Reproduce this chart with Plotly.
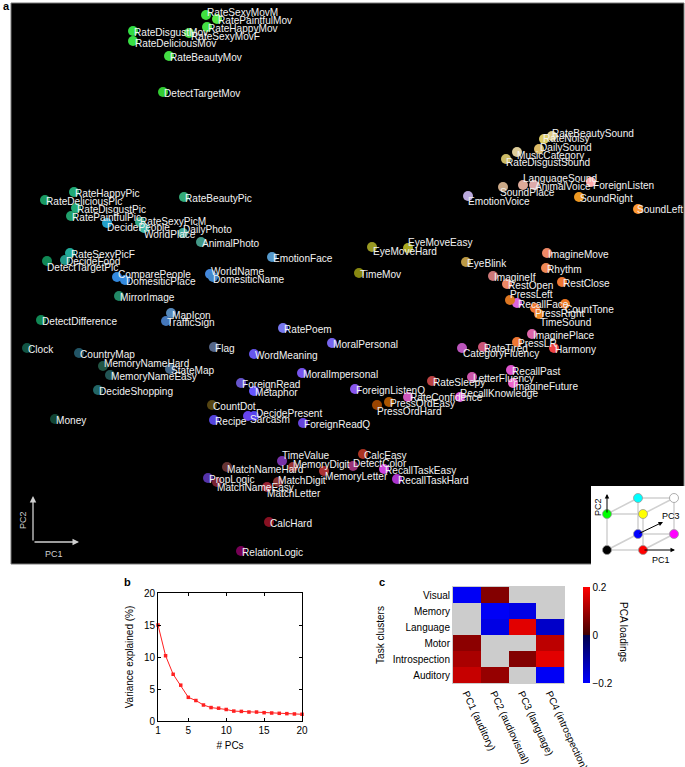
import plotly.graph_objects as go

W, H = 685, 767

# ---------------- Panel a : task scores on PC1 / PC2 (arbitrary units)
task_names = [
    "RateSexyMovM", "RatePaintfulMov", "RateHappyMov", "RateDisgustMov", "RateSexyMovF",
    "RateDeliciousMov", "RateBeautyMov", "DetectTargetMov", "RateHappyPic", "RateBeautyPic",
    "RateDeliciousPic", "RateDisgustPic", "RatePaintfulPic", "RateSexyPicM", "DecidePeople",
    "WorldPlace", "DailyPhoto", "AnimalPhoto", "RateSexyPicF", "EmotionFace",
    "DecideFood", "DetectTargetPic", "ComparePeople", "DomesiticPlace", "WorldName",
    "DomesiticName", "MirrorImage", "MapIcon", "TrafficSign", "DetectDifference",
    "RatePoem", "MoralPersonal", "Clock", "Flag", "CountryMap",
    "WordMeaning", "MemoryNameHard", "StateMap", "MoralImpersonal", "MemoryNameEasy",
    "DecideShopping", "ForeignRead", "Metaphor", "ForeignListenQ", "CountDot",
    "DecidePresent", "Sarcasm", "Recipe", "ForeignReadQ", "Money",
    "PressOrdEasy", "PressOrdHard", "RateConfidence", "RateSleepy", "LetterFluency",
    "RecallKnowledge", "ImagineFuture", "RecallPast", "CategoryFluency", "RateTired",
    "PressLR", "ImaginePlace", "Harmony", "TimeSound", "PressRight",
    "CountTone", "RecallFace", "PressLeft", "RestOpen", "ImagineIf",
    "RestClose", "Rhythm", "ImagineMove", "EyeBlink", "EyeMoveEasy",
    "EyeMoveHard", "TimeMov", "EmotionVoice", "SoundPlace", "LanguageSound",
    "AnimalVoice", "ForeignListen", "SoundRight", "SoundLeft", "RateBeautySound",
    "RateNoisy", "DailySound", "MusicCategory", "RateDisgustSound", "TimeValue",
    "MemoryDigit", "CalcEasy", "DetectColor", "MemoryLetter", "RecallTaskEasy",
    "RecallTaskHard", "MatchNameHard", "PropLogic", "MatchNameEasy", "MatchDigit",
    "MatchLetter", "CalcHard", "RelationLogic",
]
pc1_score = [
    206, 217, 207, 133, 189, 133, 169, 163, 74, 184,
    45, 76, 71, 140, 107, 144, 183, 201, 70, 272,
    65, 47, 117, 125, 210, 213, 119, 171, 166, 41,
    283, 332, 27, 214, 79, 254, 103, 170, 302, 110,
    98, 241, 254, 355, 212, 254, 248, 214, 303, 55,
    389, 377, 408, 432, 472, 460, 513, 511, 462, 483,
    517, 532, 554, 539, 535, 565, 517, 510, 507, 493,
    562, 546, 547, 466, 408, 372, 359, 468, 503, 523,
    534, 591, 579, 638, 552, 544, 539, 517, 506, 282,
    293, 363, 353, 324, 384, 397, 227, 208, 217, 278,
    267, 269, 241,
]
pc2_score = [
    15, 19, 27, 31, 33, 41, 56, 92, 192, 197,
    200, 208, 216, 222, 223, 228, 233, 242, 253, 257,
    260, 261, 277, 280, 274, 277, 296, 313, 321, 320,
    328, 343, 348, 347, 353, 354, 366, 369, 373, 375,
    390, 383, 391, 389, 405, 416, 416, 420, 423, 419,
    402, 405, 397, 381, 377, 397, 383, 370, 348, 347,
    342, 334, 348, 314, 308, 304, 303, 300, 284, 276,
    282, 268, 253, 262, 248, 247, 273, 196, 187, 185,
    185, 182, 197, 209, 136, 139, 149, 152, 159, 461,
    467, 454, 466, 471, 469, 479, 467, 478, 482, 482,
    487, 522, 551,
]
task_colors = [
    "#3fe03f", "#55e844", "#44de44", "#33dd44", "#4cdc4c", "#38df44", "#44dd44", "#33cc33", "#22aa77", "#33aa77",
    "#1a9a62", "#22aa77", "#20a06c", "#33aa88", "#22a0cc", "#44bbaa", "#44aa99", "#449988", "#22aa99", "#5599cc",
    "#229988", "#118855", "#3388dd", "#3388dd", "#4488dd", "#4488cc", "#228866", "#5588bb", "#4477bb", "#118855",
    "#7777ee", "#7766ee", "#115544", "#556688", "#225566", "#6655ee", "#225544", "#446688", "#7755ee", "#225555",
    "#226666", "#6655cc", "#6655ff", "#8855ee", "#554411", "#5544ee", "#6644ee", "#5544dd", "#6644dd", "#114433",
    "#aa5500", "#994400", "#cc55bb", "#bb4444", "#cc55aa", "#dd55dd", "#ee66cc", "#dd55cc", "#bb55bb", "#cc5577",
    "#ee7733", "#dd66aa", "#ee4444", "#ee8822", "#ee7733", "#ee7722", "#dd66dd", "#dd7722", "#ee8866", "#cc7777",
    "#ee7733", "#ee8855", "#ee8866", "#bb9944", "#aaaa22", "#999922", "#888811", "#bbaadd", "#ccaa88", "#ddaa99",
    "#ddaaaa", "#ffaaaa", "#ee9922", "#ff9933", "#ddcc88", "#ddcc66", "#ddbb66", "#ddcc99", "#ccbb66", "#7733aa",
    "#993333", "#aa3322", "#993377", "#aa3333", "#cc44dd", "#aa33cc", "#663333", "#5533aa", "#772233", "#883333",
    "#992233", "#881122", "#770055",
]

# label placement (pixel offsets of the label's left-middle point from the marker centre)
label_offset = {
    "RateSexyMovM": (1, -3), "RateSexyMovF": (2, 3), "RateDeliciousMov": (2, 2),
    "RateSexyPicM": (0, -1), "DecidePeople": (0, 4), "WorldPlace": (0, 6), "DailyPhoto": (0, -4),
    "DetectTargetPic": (0, 6), "ComparePeople": (1, -3), "WorldName": (1, -3), "DomesiticName": (0, 2),
    "MapIcon": (1, 2), "MemoryNameHard": (1, -3), "DecidePresent": (2, -3), "Sarcasm": (2, 3),
    "PressOrdHard": (0, 6), "RecallKnowledge": (0, -4), "ImagineFuture": (0, 3), "CategoryFluency": (1, 5),
    "TimeSound": (1, 8), "PressRight": (0, 5), "CountTone": (0, 5), "PressLeft": (0, -6),
    "EyeMoveEasy": (0, -6), "EyeMoveHard": (1, 4), "EmotionVoice": (0, 5), "SoundPlace": (-3, 5),
    "LanguageSound": (0, -7), "ForeignListen": (2, 3), "RateBeautySound": (0, -3), "RateNoisy": (-1, -1),
    "DailySound": (1, -2), "MusicCategory": (0, 3), "RateDisgustSound": (0, 3), "TimeValue": (0, -6),
    "MemoryDigit": (0, -3), "DetectColor": (0, -3), "MemoryLetter": (1, 5), "MatchNameHard": (0, 2),
    "MatchNameEasy": (0, 5), "MatchDigit": (0, -2), "MatchLetter": (0, 6), "RateConfidence": (2, 0),
    "SoundLeft": (-1, 0),
}

# ---------------- Panel b : variance explained
pc_index = list(range(1, 21))
variance_explained = [15.0, 10.2, 7.3, 5.6, 3.7, 3.2, 2.5, 2.1, 2.0, 1.8,
                      1.55, 1.5, 1.4, 1.4, 1.3, 1.25, 1.2, 1.15, 1.1, 1.05]

# ---------------- Panel c : PCA loadings per task cluster (None = not significant, grey)
cluster_names = ["Visual", "Memory", "Language", "Motor", "Introspection", "Auditory"]
pc_names = ["PC1 (auditory)", "PC2 (audiovisual)", "PC3 (language)", "PC4 (introspection)"]
loadings = [
    [-0.19, 0.07, None, None],
    [None, -0.19, -0.17, None],
    [None, -0.17, 0.17, -0.14],
    [0.08, None, None, 0.13],
    [0.11, None, 0.07, 0.17],
    [0.14, 0.09, None, -0.19],
]

FONT = "Liberation Sans, Arial, Helvetica, sans-serif"

def px_x(p):
    return p / W

def px_y(p):
    return 1 - p / H

fig = go.Figure()

# panel a markers
fig.add_trace(go.Scatter(
    x=pc1_score, y=pc2_score, mode="markers", text=task_names, hoverinfo="text",
    marker=dict(size=10, color=task_colors, line=dict(width=0)),
    xaxis="x", yaxis="y", showlegend=False, cliponaxis=False))

annotations = []
for name, x, y in zip(task_names, pc1_score, pc2_score):
    dx, dy = label_offset.get(name, (1, 1))
    annotations.append(dict(
        x=x, y=y, xref="x", yref="y", text=name, showarrow=False,
        xanchor="left", yanchor="middle", xshift=dx - 2, yshift=-dy,
        font=dict(family=FONT, size=10.1, color="#f2f2f2")))

# PC1/PC2 direction arrows in panel a
for (x0, y0, x1, y1) in [(33, 542, 33, 496), (33, 542, 79, 542)]:
    annotations.append(dict(x=x1, y=y1, ax=x0, ay=y0, xref="x", yref="y", axref="x", ayref="y",
                            text="", showarrow=True, arrowhead=2, arrowsize=1, arrowwidth=1.3,
                            arrowcolor="#cfcfcf"))
annotations.append(dict(x=23, y=520, xref="x", yref="y", text="PC2", showarrow=False, textangle=-90,
                        xanchor="center", yanchor="middle",
                        font=dict(family=FONT, size=9, color="#cfcfcf")))
annotations.append(dict(x=54, y=554, xref="x", yref="y", text="PC1", showarrow=False,
                        xanchor="center", yanchor="middle",
                        font=dict(family=FONT, size=9, color="#cfcfcf")))

# inset colour cube (legend graphic)
origin = (607, 550)
e1, e2, e3 = (36, 0), (0, -36), (31, -16)
cube_vertices = {}
for a in (0, 1):
    for b in (0, 1):
        for c in (0, 1):
            cube_vertices[(a, b, c)] = (origin[0] + a * e1[0] + b * e2[0] + c * e3[0],
                                        origin[1] + a * e1[1] + b * e2[1] + c * e3[1])
ex, ey = [], []
for v, (x0, y0) in cube_vertices.items():
    for k in range(3):
        if v[k] == 0:
            w = list(v); w[k] = 1
            x1, y1 = cube_vertices[tuple(w)]
            ex += [x0, x1, None]; ey += [y0, y1, None]
fig.add_trace(go.Scatter(x=ex, y=ey, mode="lines", line=dict(color="#d0d0d0", width=1.5),
                         xaxis="x2", yaxis="y2", hoverinfo="skip", showlegend=False))
vx = [cube_vertices[v][0] for v in cube_vertices]
vy = [cube_vertices[v][1] for v in cube_vertices]
vc = ["rgb(%d,%d,%d)" % (255 * v[0], 255 * v[1], 255 * v[2]) for v in cube_vertices]
fig.add_trace(go.Scatter(x=vx, y=vy, mode="markers",
                         marker=dict(size=9, color=vc, line=dict(width=0.8, color="#999999")),
                         xaxis="x2", yaxis="y2", hoverinfo="skip", showlegend=False, cliponaxis=False))
for (x0, y0, x1, y1) in [(607, 514, 607, 494), (643, 550, 675, 550), (638, 534, 663, 522)]:
    annotations.append(dict(x=x1, y=y1, ax=x0, ay=y0, xref="x2", yref="y2", axref="x2", ayref="y2",
                            text="", showarrow=True, arrowhead=2, arrowsize=0.9, arrowwidth=1,
                            arrowcolor="black"))
annotations.append(dict(x=598, y=507, xref="x2", yref="y2", text="PC2", showarrow=False, textangle=-90,
                        xanchor="center", yanchor="middle",
                        font=dict(family=FONT, size=9, color="black")))
annotations.append(dict(x=661, y=560, xref="x2", yref="y2", text="PC1", showarrow=False,
                        xanchor="center", yanchor="middle",
                        font=dict(family=FONT, size=9, color="black")))
annotations.append(dict(x=671, y=516, xref="x2", yref="y2", text="PC3", showarrow=False,
                        xanchor="center", yanchor="middle",
                        font=dict(family=FONT, size=9, color="black")))

# panel b
fig.add_trace(go.Scatter(x=pc_index, y=variance_explained, mode="lines+markers",
                         line=dict(color="#ff2020", width=1),
                         marker=dict(symbol="square", size=3.5, color="#ff2020"),
                         xaxis="x3", yaxis="y3", showlegend=False, cliponaxis=False))

# panel c
fig.add_trace(go.Heatmap(z=[[1] * len(pc_names) for _ in cluster_names], x=pc_names, y=cluster_names,
                         colorscale=[[0, "#cccccc"], [1, "#cccccc"]], showscale=False,
                         hoverinfo="skip", xaxis="x4", yaxis="y4"))
fig.add_trace(go.Heatmap(
    z=loadings, x=pc_names, y=cluster_names, zmin=-0.2, zmax=0.2,
    colorscale=[[0, "#0000ff"], [0.5, "#00004a"], [0.5, "#400000"], [1, "#ff0000"]],
    xaxis="x4", yaxis="y4",
    colorbar=dict(x=px_x(583), xanchor="left", y=px_y(635), yanchor="middle",
                  len=96 / H, lenmode="fraction", thickness=7, outlinewidth=0,
                  xpad=0, ypad=0, tickvals=[-0.2, 0, 0.2], ticktext=["\u22120.2", "0", "0.2"],
                  ticks="", tickfont=dict(family=FONT, size=10, color="black"))))

annotations.append(dict(x=px_x(624), y=px_y(632), xref="paper", yref="paper", text="PCA loadings",
                        showarrow=False, textangle=90, xanchor="center", yanchor="middle",
                        font=dict(family=FONT, size=10, color="black")))

# panel letters
annotations += [
    dict(x=px_x(1), y=px_y(6), xref="paper", yref="paper", text="<b>a</b>", showarrow=False,
         xanchor="left", yanchor="middle", font=dict(family=FONT, size=11, color="black")),
    dict(x=px_x(128), y=px_y(582), xref="paper", yref="paper", text="<b>b</b>", showarrow=False,
         xanchor="center", yanchor="middle", font=dict(family=FONT, size=11, color="black")),
    dict(x=px_x(382), y=px_y(582), xref="paper", yref="paper", text="<b>c</b>", showarrow=False,
         xanchor="center", yanchor="middle", font=dict(family=FONT, size=11, color="black")),
]

shapes = [
    dict(type="rect", xref="x domain", yref="y domain", x0=0, x1=1, y0=0, y1=1,
         fillcolor="black", line=dict(color="#777777", width=1), layer="below"),
    dict(type="rect", xref="x2 domain", yref="y2 domain", x0=0, x1=1, y0=0, y1=1,
         fillcolor="white", line=dict(width=0), layer="below"),
]

axis_off = dict(visible=False, showgrid=False, zeroline=False, fixedrange=True, automargin=False)
tickfont = dict(family=FONT, size=10, color="black")

fig.update_layout(
    template="none",
    width=W, height=H, autosize=False, margin=dict(l=0, r=0, t=0, b=0, pad=0, autoexpand=False),
    paper_bgcolor="white", plot_bgcolor="rgba(0,0,0,0)",
    font=dict(family=FONT, size=10, color="black"),
    showlegend=False,
    xaxis=dict(axis_off, domain=[px_x(11), px_x(684)], range=[11, 684], anchor="y"),
    yaxis=dict(axis_off, domain=[px_y(564), px_y(3)], range=[564, 3], anchor="x"),
    xaxis2=dict(axis_off, domain=[px_x(591), 1], range=[591, 685], anchor="y2"),
    yaxis2=dict(axis_off, domain=[px_y(565), px_y(486)], range=[565, 486], anchor="x2"),
    xaxis3=dict(domain=[px_x(158), px_x(302)], range=[1, 20], anchor="y3", automargin=False,
                tickvals=[1, 5, 10, 15, 20], ticks="inside", ticklen=3, tickcolor="black",
                showline=True, linecolor="black", linewidth=1, mirror="ticks",
                showgrid=False, zeroline=False, tickfont=tickfont,
                title=dict(text="# PCs", font=tickfont, standoff=6)),
    yaxis3=dict(domain=[px_y(721), px_y(593)], range=[0, 20], anchor="x3", automargin=False,
                tickvals=[0, 5, 10, 15, 20], ticks="inside", ticklen=3, tickcolor="black",
                showline=True, linecolor="black", linewidth=1, mirror="ticks",
                showgrid=False, zeroline=False, tickfont=tickfont,
                title=dict(text="Variance explained (%)", font=tickfont, standoff=8)),
    xaxis4=dict(domain=[px_x(453), px_x(564)], anchor="y4", type="category", tickangle=65,
                automargin=False, showline=True, linecolor="#cccccc", mirror=True,
                showgrid=False, zeroline=False, ticks="", tickfont=tickfont),
    yaxis4=dict(domain=[px_y(683), px_y(587)], anchor="x4", type="category", autorange="reversed",
                automargin=False, showline=True, linecolor="#cccccc", mirror=True,
                showgrid=False, zeroline=False, ticks="",
                tickfont=tickfont, title=dict(text="Task clusters", font=tickfont, standoff=6)),
    annotations=annotations, shapes=shapes,
)

fig.write_html(
    "out.html",
    config={"displayModeBar": False, "staticPlot": False},
    post_script=(
        "document.documentElement.style.margin='0';"
        "document.documentElement.style.padding='0';"
        "document.body.style.margin='0';document.body.style.padding='0';"
        "document.body.style.overflow='hidden';"
    ),
)
